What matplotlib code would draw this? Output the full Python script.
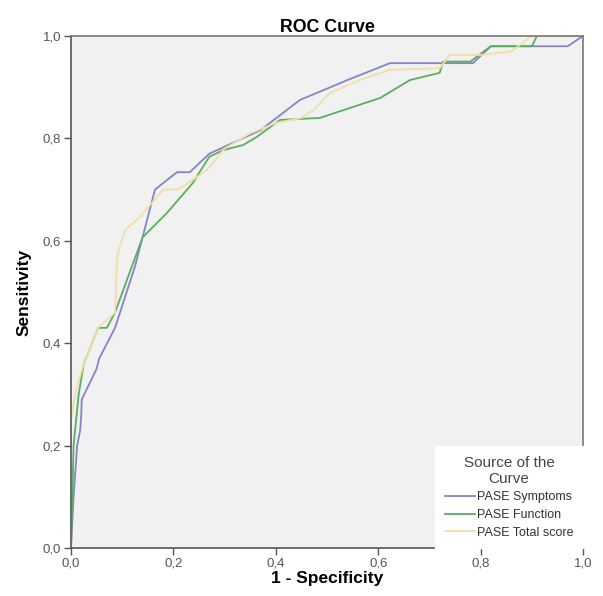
import matplotlib
matplotlib.use("Agg")
from matplotlib import pyplot as plt
from matplotlib.ticker import FuncFormatter

# ROC curves (1 - specificity, sensitivity)
symptoms_x = [0.0, 0.005, 0.012, 0.018, 0.02, 0.021, 0.05, 0.055, 0.086, 0.125, 0.164,
              0.207, 0.232, 0.27, 0.37, 0.447, 0.54, 0.623, 0.785, 0.82, 0.97, 1.0]
symptoms_y = [0.0, 0.1, 0.2, 0.23, 0.26, 0.29, 0.35, 0.37, 0.43, 0.55, 0.70,
              0.734, 0.734, 0.77, 0.816, 0.875, 0.914, 0.947, 0.947, 0.98, 0.98, 1.0]

function_x = [0.0, 0.005, 0.015, 0.025, 0.053, 0.07, 0.086, 0.109, 0.14, 0.187, 0.238,
              0.27, 0.297, 0.336, 0.363, 0.408, 0.486, 0.604, 0.662, 0.72, 0.727, 0.78,
              0.82, 0.90, 0.91, 1.0]
function_y = [0.0, 0.2, 0.3, 0.36, 0.43, 0.43, 0.46, 0.523, 0.607, 0.654, 0.713,
              0.764, 0.777, 0.787, 0.803, 0.836, 0.84, 0.879, 0.914, 0.928, 0.95, 0.95,
              0.98, 0.98, 1.0, 1.0]

total_x = [0.0, 0.0, 0.01, 0.025, 0.053, 0.075, 0.086, 0.09, 0.105, 0.135, 0.18, 0.21,
           0.265, 0.3, 0.35, 0.40, 0.45, 0.473, 0.506, 0.564, 0.623, 0.72, 0.74, 0.80,
           0.86, 0.9, 1.0]
total_y = [0.0, 0.25, 0.31, 0.36, 0.43, 0.45, 0.46, 0.57, 0.62, 0.647, 0.70, 0.70,
           0.738, 0.78, 0.81, 0.83, 0.84, 0.855, 0.889, 0.914, 0.934, 0.937, 0.963, 0.963,
           0.97, 1.0, 1.0]

labels = ["PASE Symptoms", "PASE Function", "PASE Total score"]
colors = ["#8285c8", "#5aae5e", "#f0dfa6"]
ticks = [0.0, 0.2, 0.4, 0.6, 0.8, 1.0]

plt.rcParams["font.family"] = ["Liberation Sans", "DejaVu Sans"]

fig = plt.figure(figsize=(6.03, 5.96), dpi=100)
ax = fig.add_axes([71/603, 1 - 548/596, 512/603, 512/596])
ax.set_facecolor("#f1f1f1")

#Curves
ax.plot(symptoms_x, symptoms_y, color=colors[0], lw=1.3, label=labels[0])
ax.plot(function_x, function_y, color=colors[1], lw=1.3, label=labels[1])
ax.plot(total_x, total_y, color=colors[2], lw=1.3, label=labels[2])

ax.set_xlim(0, 1)
ax.set_ylim(0, 1)
ax.set_xticks(ticks)
ax.set_yticks(ticks)
fmt = FuncFormatter(lambda v, p: ("%.1f" % v).replace(".", ","))
ax.xaxis.set_major_formatter(fmt)
ax.yaxis.set_major_formatter(fmt)
ax.tick_params(direction="out", length=5, width=1, color="#555555",
               labelcolor="#555555", labelsize=9.5, pad=2)

for s in ax.spines.values():
    s.set_color("#777777")
    s.set_linewidth(1.2)
ax.spines["left"].set_color("#555555")
ax.spines["bottom"].set_color("#555555")

ax.set_title("ROC Curve", fontsize=12.8, fontweight="bold", pad=3)
ax.set_xlabel("1 - Specificity", fontsize=12.5, fontweight="bold", labelpad=1)
ax.set_ylabel("Sensitivity", fontsize=12.5, fontweight="bold", labelpad=8)

#Legend
leg = ax.legend(title="Source of the\nCurve", loc="lower right", fontsize=9,
                title_fontsize=11, frameon=True, fancybox=False, borderaxespad=0,
                handlelength=2.4, handletextpad=0.2, labelspacing=0.45,
                borderpad=0.75)
leg.get_frame().set_facecolor("white")
leg.get_frame().set_edgecolor("white")
leg.get_frame().set_alpha(1)
leg.get_title().set_color("#444444")
leg.get_title().set_multialignment("center")
for t in leg.get_texts():
    t.set_color("#333333")

fig.savefig("out.png", dpi=100)
